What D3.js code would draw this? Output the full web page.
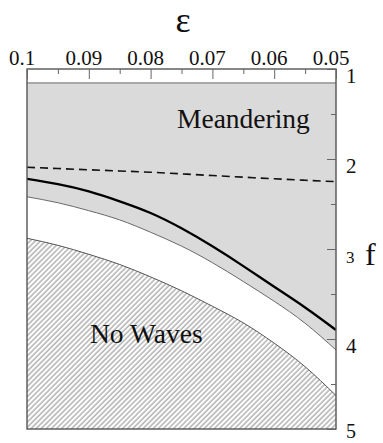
<!DOCTYPE html>
<html>
<head>
<meta charset="utf-8">
<script src="https://cdn.jsdelivr.net/npm/d3@7"></script>
<style>
  html, body { margin: 0; padding: 0; background: #fff; }
  svg { display: block; }
  svg text { font-family: "Liberation Serif", "Times New Roman", serif !important; fill: #111; }
</style>
</head>
<body>
<svg id="chart" width="383" height="443"></svg>
<script>
// ---- data ----
const epsilon = [0.1, 0.095, 0.09, 0.085, 0.08, 0.075, 0.07, 0.065, 0.06, 0.055, 0.05];
const fDashed = [2.092, 2.106, 2.12, 2.133, 2.147, 2.165, 2.184, 2.202, 2.22, 2.236, 2.252];
const fThick  = [2.22, 2.28, 2.36, 2.47, 2.60, 2.77, 2.97, 3.19, 3.42, 3.65, 3.90];
const fUpper  = [2.42, 2.486, 2.574, 2.677, 2.814, 2.968, 3.152, 3.361, 3.581, 3.825, 4.122];
const fNoWave = [2.881, 2.959, 3.059, 3.172, 3.31, 3.464, 3.636, 3.821, 4.046, 4.308, 4.628];
const fMeanderTop = 1.155;

const xMajorTicks = [0.1, 0.09, 0.08, 0.07, 0.06, 0.05];
const xMinorTicks = [0.095, 0.085, 0.075, 0.065, 0.055];
const xTickLabels = ["0.1", "0.09", "0.08", "0.07", "0.06", "0.05"];
const yMajorTicks = [1, 2, 3, 4, 5];
const yMinorTicks = [1.5, 2.5, 3.5, 4.5];
const yTickLabels = ["1", "2", "3", "4", "5"];

// ---- layout ----
const FONT = "Liberation Serif, Times New Roman, serif";
const svg = d3.select("#chart");
const L = 27, R = 336, T = 69, B = 429;
const x = d3.scaleLinear().domain([0.1, 0.05]).range([L, R]);
const y = d3.scaleLinear().domain([1, 5]).range([T, B]);

const defs = svg.append("defs");
const pat = defs.append("pattern")
  .attr("id", "hatch").attr("patternUnits", "userSpaceOnUse")
  .attr("width", 3.6).attr("height", 3.6)
  .attr("patternTransform", "rotate(45)");
pat.append("rect").attr("width", 3.6).attr("height", 3.6).attr("fill", "#fff");
pat.append("line").attr("x1", 1).attr("y1", 0).attr("x2", 1).attr("y2", 3.6)
  .attr("stroke", "#a8a8a8").attr("stroke-width", 1.3);

const clip = defs.append("clipPath").attr("id", "plotclip");
clip.append("rect").attr("x", L).attr("y", T).attr("width", R - L).attr("height", B - T);

const g = svg.append("g").attr("clip-path", "url(#plotclip)");

const pts = arr => epsilon.map((e, i) => [e, arr[i]]);
const curve = d3.curveNatural;

// grey meandering region: from top line down to upper boundary
const areaTop = d3.area().x(d => x(d[0])).y0(y(fMeanderTop)).y1(d => y(d[1])).curve(curve);
g.append("path").datum(pts(fUpper)).attr("d", areaTop).attr("fill", "#dadada");

// hatched no-wave region
const areaBottom = d3.area().x(d => x(d[0])).y0(y(5)).y1(d => y(d[1])).curve(curve);
g.append("path").datum(pts(fNoWave)).attr("d", areaBottom).attr("fill", "url(#hatch)");

const line = d3.line().x(d => x(d[0])).y(d => y(d[1])).curve(curve);

// top boundary of grey
g.append("line").attr("x1", L).attr("x2", R).attr("y1", y(fMeanderTop)).attr("y2", y(fMeanderTop))
  .attr("stroke", "#666").attr("stroke-width", 1);

g.append("path").datum(pts(fUpper)).attr("d", line)
  .attr("fill", "none").attr("stroke", "#6a6a6a").attr("stroke-width", 1);
g.append("path").datum(pts(fNoWave)).attr("d", line)
  .attr("fill", "none").attr("stroke", "#555").attr("stroke-width", 1);
g.append("path").datum(pts(fThick)).attr("d", line)
  .attr("fill", "none").attr("stroke", "#000").attr("stroke-width", 2.3);
g.append("path").datum(pts(fDashed)).attr("d", line)
  .attr("fill", "none").attr("stroke", "#111").attr("stroke-width", 1.6)
  .attr("stroke-dasharray", "8,5");

// frame
svg.append("rect").attr("x", L).attr("y", T).attr("width", R - L).attr("height", B - T)
  .attr("fill", "none").attr("stroke", "#555").attr("stroke-width", 1.4);

// top axis
const xAxis = svg.append("g").attr("transform", `translate(0,${T})`)
  .call(d3.axisTop(x).tickValues(xMajorTicks).tickSize(-10).tickPadding(4.5)
    .tickFormat((d, i) => xTickLabels[i]));
const xMinor = svg.append("g").attr("transform", `translate(0,${T})`)
  .call(d3.axisTop(x).tickValues(xMinorTicks).tickSize(-5).tickFormat(""));
[xAxis, xMinor].forEach(a => {
  a.attr("font-family", FONT).attr("font-size", 21);
  a.select(".domain").remove();
  a.selectAll("line").attr("stroke", "#666").attr("stroke-width", 1);
});
xAxis.selectAll("text").attr("font-size", 21).attr("dx", -5.5)
  .attr("font-family", FONT).attr("fill", "#111");

// right axis
const yAxis = svg.append("g").attr("transform", `translate(${R},0)`)
  .call(d3.axisRight(y).tickValues(yMajorTicks).tickSize(-9).tickPadding(10)
    .tickFormat((d, i) => yTickLabels[i]));
const yMinor = svg.append("g").attr("transform", `translate(${R},0)`)
  .call(d3.axisRight(y).tickValues(yMinorTicks).tickSize(-5).tickFormat(""));
[yAxis, yMinor].forEach(a => {
  a.attr("font-family", FONT).attr("font-size", 21);
  a.select(".domain").remove();
  a.selectAll("line").attr("stroke", "#666").attr("stroke-width", 1);
});
yAxis.selectAll("text").attr("font-size", d => d === 3 ? 17 : (d === 5 ? 20 : 21))
  .attr("dy", 0).attr("y", d => d === 3 ? 13 : (d === 5 ? 8.5 : 13.5))
  .attr("font-family", FONT).attr("fill", "#111");

// axis titles
svg.append("text").attr("x", (L + R) / 2 + 1.5).attr("y", 32).attr("text-anchor", "middle")
  .attr("font-family", FONT).attr("font-size", 36).text("ε");
svg.append("text").attr("x", 365).attr("y", 265).attr("font-family", FONT)
  .attr("font-size", 32).text("f");

// region labels
svg.append("text").attr("x", 177).attr("y", 128).attr("font-family", FONT)
  .attr("font-size", 27.5).text("Meandering");
svg.append("text").attr("x", 90).attr("y", 343).attr("font-family", FONT)
  .attr("font-size", 27.5).text("No Waves");
</script>
</body>
</html>
